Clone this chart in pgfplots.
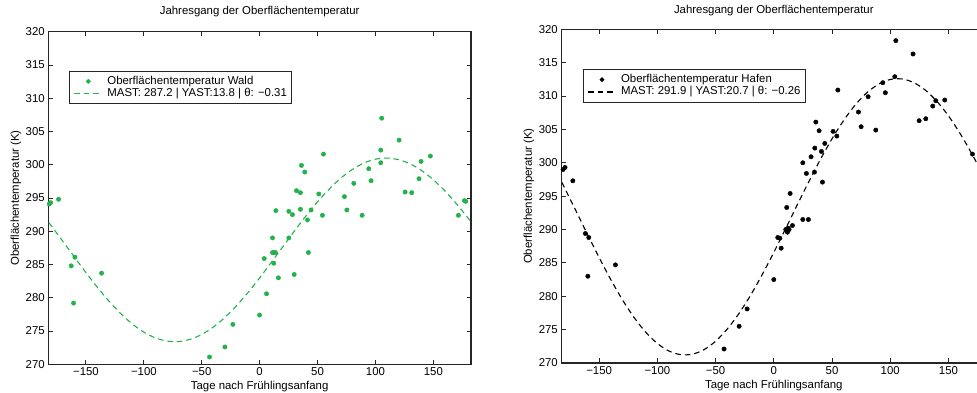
\documentclass[border=0pt]{standalone}
\usepackage{fontspec}
\setmainfont{Liberation Sans}
\usepackage{pgfplots}
\usepackage{pgfplotstable}
\pgfplotsset{compat=1.18}
\definecolor{waldgreen}{RGB}{34,177,76}

\pgfplotstableread{
x y
-181.7 294.1
-180.5 294.3
-173.6 294.8
-162.7 284.8
-160.7 279.2
-159.5 286.1
-136.5 283.7
-43.3 271.1
-30.0 272.6
-23.1 276.0
-0.1 277.4
3.9 285.9
5.9 280.6
11.1 289.0
11.1 286.8
12.2 285.2
12.5 286.8
13.6 286.8
14.0 293.1
16.2 283.0
25.2 293.0
25.2 289.0
28.3 292.5
29.8 283.5
31.8 296.1
35.2 295.8
35.2 293.3
36.1 299.9
39.0 298.9
41.3 291.7
42.1 286.8
44.4 293.2
51.1 295.6
54.2 292.4
55.1 301.6
73.2 295.2
75.3 293.2
81.3 297.2
88.5 292.4
94.2 299.4
96.2 297.6
104.6 302.2
104.6 300.3
105.4 307.0
120.4 303.7
125.6 295.9
131.3 295.8
137.6 297.9
139.4 300.5
147.4 301.3
171.6 292.4
176.8 294.6
178.0 294.5
}\waldpts

\pgfplotstableread{
x y
-182 291.29
-180 290.84
-170 288.50
-160 286.13
-150 283.79
-140 281.55
-130 279.48
-120 277.63
-110 276.07
-100 274.84
-90 273.97
-80 273.49
-70 273.42
-60 273.76
-50 274.49
-40 275.60
-30 277.05
-20 278.80
-10 280.80
0 282.99
10 285.31
20 287.67
30 290.03
40 292.30
50 294.42
60 296.33
70 297.97
80 299.29
90 300.25
100 300.83
110 301.00
120 300.76
130 300.13
140 299.11
150 297.74
160 296.06
170 294.12
180 291.97
183 291.29
}\waldfit

\pgfplotstableread{
x y
-181.0 299.0
-179.3 299.3
-172.6 297.3
-161.8 289.4
-159.7 283.0
-158.9 288.8
-136.0 284.7
-42.7 272.1
-29.8 275.5
-22.9 278.1
0.0 282.5
3.4 288.8
5.2 288.7
6.3 287.2
10.3 290.0
11.1 293.3
11.7 289.6
12.3 290.2
13.1 290.0
14.0 295.4
16.0 290.6
24.9 291.5
24.9 300.0
28.0 298.4
29.7 291.5
32.0 300.9
34.9 298.6
35.2 302.2
36.1 306.1
38.9 304.8
40.9 301.7
41.8 297.1
43.8 302.9
50.9 304.7
54.1 304.0
55.0 310.9
72.7 307.6
75.0 305.4
81.0 309.9
87.6 304.9
93.6 312.0
95.8 310.5
103.9 312.9
104.8 318.3
119.6 316.3
124.8 306.3
130.5 306.6
136.5 308.5
139.1 309.3
146.8 309.4
170.6 301.3
}\hafenpts

\pgfplotstableread{
x y
-182 297.05
-180 296.35
-170 292.82
-160 289.27
-150 285.79
-140 282.49
-130 279.47
-120 276.82
-110 274.62
-100 272.92
-90 271.79
-80 271.25
-70 271.32
-60 271.99
-50 273.26
-40 275.08
-30 277.40
-20 280.14
-10 283.23
0 286.58
10 290.08
20 293.64
30 297.15
40 300.50
50 303.60
60 306.35
70 308.68
80 310.51
90 311.78
100 312.48
110 312.56
120 312.03
130 310.91
140 309.22
150 307.03
160 304.38
170 301.37
180 298.08
183 297.05
}\hafenfit

\pgfplotsset{
  common/.style={
    scale only axis,
    xmin=-182.5, xmax=182.5, ymin=270, ymax=320,
    xtick={-150,-100,-50,0,50,100,150},
    xticklabels={−150,−100,−50,0,50,100,150},
    ytick={270,275,...,320},
    tick align=inside,
    major tick length=4.5pt,
    axis line style={line width=1.2pt, black!85},
    every tick/.style={black!85, line width=0.9pt},
    tick label style={font=\fontsize{11.4}{13}\selectfont},
    /pgf/number format/assume math mode=true,
    label style={font=\fontsize{11.4}{13}\selectfont},
    xlabel={Tage nach Frühlingsanfang},
    ylabel={Oberflächentemperatur (K)},
    title={Jahresgang der Oberflächentemperatur},
    legend cell align=left,
    legend style={font=\fontsize{11.4}{13}\selectfont, anchor=north west,
      draw=black!85, line width=1pt, inner xsep=4pt, inner ysep=4pt,
      column sep=4pt, row sep=0pt,
      nodes={inner sep=0.5pt, text height=8.5pt, text depth=2.8pt}},
  }
}

\begin{document}
\begin{tikzpicture}
\useasboundingbox (0pt,0pt) rectangle (977pt,393pt);
\clip (0pt,0pt) rectangle (977pt,393pt);

\begin{axis}[common,
  at={(48.3pt,28.7pt)}, anchor=south west,
  width=422.7pt, height=332.6pt,
  xlabel style={at={(axis description cs:0.5,-0.0674)}, anchor=center},
  ylabel style={at={(axis description cs:-0.0764,0.5)}, anchor=center},
  title style={at={(axis description cs:0.5,1.0412)}, anchor=center, font=\fontsize{11.4}{13}\selectfont},
  legend style={at={(axis description cs:0.0497,0.8827)}},
]
\addplot[only marks, mark=*, mark size=2.2pt, color=waldgreen,
  legend image code/.code={\fill[waldgreen] (14pt,0pt) circle (1.8pt);}]
  table[x=x,y=y]{\waldpts};
\addlegendentry{Oberflächentemperatur Wald}
\addplot[waldgreen, line width=1.1pt, dash pattern=on 5.5pt off 4pt, smooth, no marks,
  legend image code/.code={\draw[waldgreen, line width=1.1pt, dash pattern=on 5.5pt off 4pt] (0pt,0pt) -- (28pt,0pt);}]
  table[x=x,y=y]{\waldfit};
\addlegendentry{MAST: 287.2 | YAST:13.8 | θ: −0.31}
\end{axis}

\begin{axis}[common,
  at={(561.3pt,30pt)}, anchor=south west,
  width=425pt, height=333.7pt,
  xlabel style={at={(axis description cs:0.5,-0.0674)}, anchor=center},
  ylabel style={at={(axis description cs:-0.076,0.5)}, anchor=center},
  title style={at={(axis description cs:0.5,1.037)}, anchor=center, font=\fontsize{11.4}{13}\selectfont},
  legend style={at={(axis description cs:0.051,0.881)}},
]
\addplot[only marks, mark=*, mark size=2.2pt, color=black,
  legend image code/.code={\fill[black] (14pt,0pt) circle (1.8pt);}]
  table[x=x,y=y]{\hafenpts};
\addlegendentry{Oberflächentemperatur Hafen}
\addplot[black, line width=1.1pt, dash pattern=on 5.5pt off 4pt, smooth, no marks,
  legend image code/.code={\draw[black, line width=1.1pt, dash pattern=on 5.5pt off 4pt] (0pt,0pt) -- (28pt,0pt);}]
  table[x=x,y=y]{\hafenfit};
\addlegendentry{MAST: 291.9 | YAST:20.7 | θ: −0.26}
\end{axis}
\end{tikzpicture}
\end{document}
